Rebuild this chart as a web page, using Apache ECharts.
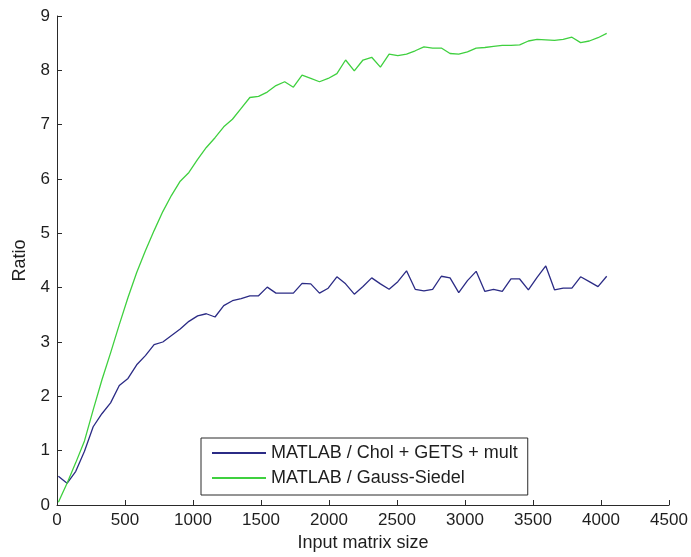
<!DOCTYPE html>
<html>
<head>
<meta charset="utf-8">
<script src="https://cdn.jsdelivr.net/npm/echarts@6/dist/echarts.min.js"></script>
<style>
  html, body { margin: 0; padding: 0; background: #ffffff; }
  #chart { width: 691px; height: 557px; }
</style>
</head>
<body>
<div id="chart"></div>
<script>
// Input matrix sizes at which both ratios were measured
const sizes = [
  10, 74, 138, 202, 266, 330, 394, 458, 522, 586, 650, 714, 778, 842, 906, 970,
  1034, 1098, 1162, 1226, 1290, 1354, 1418, 1482, 1546, 1610, 1674, 1738, 1802, 1866, 1930, 1994,
  2058, 2122, 2186, 2250, 2314, 2378, 2442, 2506, 2570, 2634, 2698, 2762, 2826, 2890, 2954, 3018,
  3082, 3146, 3210, 3274, 3338, 3402, 3466, 3530, 3594, 3658, 3722, 3786, 3850, 3914, 3978, 4042
];

// MATLAB / Chol + GETS + mult
const cholGetsMult = [
  0.53, 0.40, 0.62, 0.99, 1.44, 1.68, 1.88, 2.20, 2.33, 2.58, 2.75, 2.95, 3.00, 3.12, 3.24, 3.38,
  3.48, 3.52, 3.46, 3.67, 3.76, 3.80, 3.85, 3.85, 4.01, 3.90, 3.90, 3.90, 4.08, 4.07, 3.90, 3.99,
  4.20, 4.07, 3.88, 4.02, 4.18, 4.07, 3.97, 4.11, 4.31, 3.97, 3.94, 3.97, 4.21, 4.18, 3.91, 4.13,
  4.30, 3.93, 3.97, 3.93, 4.16, 4.16, 3.96, 4.19, 4.40, 3.96, 3.99, 3.99, 4.20, 4.11, 4.02, 4.21
];

// MATLAB / Gauss-Siedel
const gaussSiedel = [
  0.05, 0.40, 0.78, 1.18, 1.75, 2.30, 2.80, 3.32, 3.82, 4.28, 4.68, 5.05, 5.40, 5.70, 5.96, 6.12,
  6.36, 6.58, 6.76, 6.96, 7.10, 7.30, 7.50, 7.52, 7.60, 7.72, 7.79, 7.69, 7.91, 7.85, 7.79, 7.85,
  7.94, 8.19, 7.99, 8.19, 8.24, 8.06, 8.30, 8.27, 8.30, 8.36, 8.43, 8.41, 8.41, 8.31, 8.30, 8.34,
  8.41, 8.42, 8.44, 8.46, 8.46, 8.47, 8.54, 8.57, 8.56, 8.55, 8.57, 8.61, 8.51, 8.54, 8.60, 8.68
];

const seriesNames = ['MATLAB / Chol + GETS + mult', 'MATLAB / Gauss-Siedel'];
const seriesColors = ['#2b2b85', '#3fd03f'];
const xTicks = { min: 0, max: 4500, step: 500 };
const yTicks = { min: 0, max: 9, step: 1 };

const pairs = (ys) => sizes.map((x, i) => [x, ys[i]]);

const FONT = 'Liberation Sans, Arial, sans-serif';
const AXIS_COLOR = '#2a2a2a';
const TEXT_COLOR = '#1e1e1e';

const chart = echarts.init(document.getElementById('chart'), null, { renderer: 'canvas' });

chart.setOption({
  backgroundColor: '#ffffff',
  animation: false,
  textStyle: { fontFamily: FONT },
  grid: { left: 57, right: 22, top: 16, bottom: 50, containLabel: false },
  legend: {
    orient: 'vertical',
    left: 201,
    top: 438,
    data: seriesNames.map((name) => ({ name, icon: 'rect' })),
    itemWidth: 54,
    itemHeight: 2,
    itemGap: 7,
    padding: [6, 10, 8, 11],
    backgroundColor: '#ffffff',
    borderColor: AXIS_COLOR,
    borderWidth: 1,
    borderRadius: 0,
    textStyle: { fontFamily: FONT, fontSize: 18, color: TEXT_COLOR, lineHeight: 18 }
  },
  xAxis: {
    type: 'value',
    min: xTicks.min,
    max: xTicks.max,
    interval: xTicks.step,
    name: 'Input matrix size',
    nameLocation: 'middle',
    nameGap: 29,
    nameTextStyle: { fontFamily: FONT, fontSize: 18, color: TEXT_COLOR },
    axisLine: { show: true, onZero: false, lineStyle: { color: AXIS_COLOR, width: 1 } },
    axisTick: { show: true, inside: true, length: 5, lineStyle: { color: AXIS_COLOR } },
    axisLabel: { fontFamily: FONT, fontSize: 17, color: TEXT_COLOR, margin: 7, formatter: (v) => String(v) },
    splitLine: { show: false }
  },
  yAxis: {
    type: 'value',
    min: yTicks.min,
    max: yTicks.max,
    interval: yTicks.step,
    name: 'Ratio',
    nameLocation: 'middle',
    nameGap: 28,
    nameRotate: 90,
    nameTextStyle: { fontFamily: FONT, fontSize: 18, color: TEXT_COLOR },
    axisLine: { show: true, lineStyle: { color: AXIS_COLOR, width: 1 } },
    axisTick: { show: true, inside: true, length: 5, lineStyle: { color: AXIS_COLOR } },
    axisLabel: { fontFamily: FONT, fontSize: 17, color: TEXT_COLOR, margin: 7, formatter: (v) => String(v) },
    splitLine: { show: false }
  },
  series: [
    {
      name: seriesNames[0],
      type: 'line',
      data: pairs(cholGetsMult),
      showSymbol: false,
      symbol: 'none',
      lineStyle: { color: seriesColors[0], width: 1.3 },
      itemStyle: { color: seriesColors[0] }
    },
    {
      name: seriesNames[1],
      type: 'line',
      data: pairs(gaussSiedel),
      showSymbol: false,
      symbol: 'none',
      lineStyle: { color: seriesColors[1], width: 1.3 },
      itemStyle: { color: seriesColors[1] }
    }
  ]
});
</script>
</body>
</html>
